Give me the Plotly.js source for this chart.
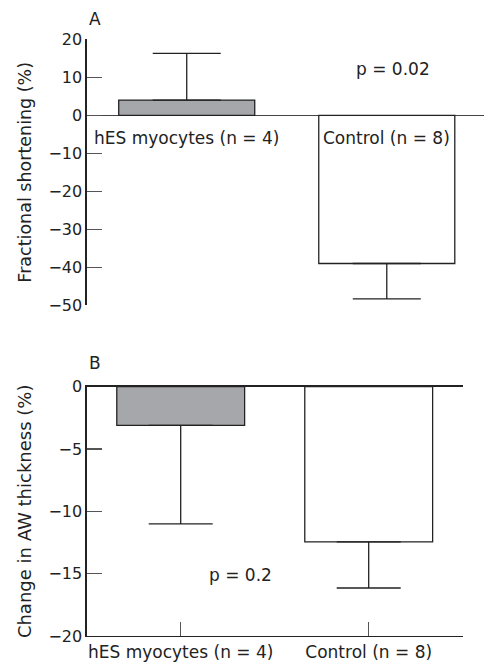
<!DOCTYPE html>
<html>
<head>
<meta charset="utf-8">
<script src="https://cdn.plot.ly/plotly-3.0.1.min.js"></script>
<style>html,body{margin:0;padding:0;background:#fff;}#chart{width:484px;height:667px;}</style>
</head>
<body>
<div id="chart"></div>
<script>
// Data
var categories = ['hES myocytes (n = 4)', 'Control (n = 8)'];
var fsMean = [4.0, -39.0];          // Panel A: fractional shortening (%)
var fsErrUp = [12.3, 0];
var fsErrDown = [0, 9.3];
var awMean = [-3.1, -12.45];        // Panel B: change in AW thickness (%)
var awErrUp = [0, 0];
var awErrDown = [7.9, 3.7];
var barColors = ['#a6a7ab', '#ffffff'];
var pA = 'p = 0.02';
var pB = 'p = 0.2';
var yTicksA = [20, 10, 0, -10, -20, -30, -40, -50];
var yTicksB = [0, -5, -10, -15, -20];

var FONT = '"DejaVu Sans", sans-serif';
var W = 484, H = 667;
function px(x){return x / W;}
function py(y){return 1 - y / H;}

var idx = categories.map(function(_, i){return i;});

var traceA = {
  type: 'bar', x: idx, y: fsMean, xaxis: 'x', yaxis: 'y', width: 0.68,
  marker: {color: barColors, line: {color: '#222', width: 1.3}},
  error_y: {type: 'data', symmetric: false, array: fsErrUp, arrayminus: fsErrDown,
            color: '#222', thickness: 1.3, width: 34},
  showlegend: false, hoverinfo: 'skip'
};
var traceB = {
  type: 'bar', x: idx, y: awMean, xaxis: 'x2', yaxis: 'y2', width: 0.68,
  marker: {color: barColors, line: {color: '#222', width: 1.3}},
  error_y: {type: 'data', symmetric: false, array: awErrUp, arrayminus: awErrDown,
            color: '#222', thickness: 1.3, width: 32},
  showlegend: false, hoverinfo: 'skip'
};

var annA = categories.map(function(c, i){
  return {xref: 'x', yref: 'y', x: i, y: -6, text: c, showarrow: false,
          xanchor: 'center', yanchor: 'middle', font: {family: FONT, size: 17, color: '#222'}};
});

var layout = {
  width: W, height: H,
  margin: {l: 0, r: 0, t: 0, b: 0},
  paper_bgcolor: '#fff', plot_bgcolor: 'rgba(0,0,0,0)',
  font: {family: FONT, size: 16, color: '#222'},
  xaxis: {
    domain: [px(86.7), 1], range: [-0.5, 1.486], anchor: 'y',
    showline: false, showticklabels: false, ticks: '', showgrid: false, zeroline: false, fixedrange: true
  },
  yaxis: {
    domain: [py(305.3), py(39.3)], range: [-50, 20], anchor: 'x',
    tickvals: yTicksA, ticks: 'inside', ticklen: 15, tickcolor: '#555', tickwidth: 1.2,
    showline: true, linecolor: '#222', linewidth: 1.3,
    showgrid: false, zeroline: true, zerolinecolor: '#444', zerolinewidth: 1.2,
    tickfont: {family: FONT, size: 16, color: '#222'},
    title: {text: 'Fractional shortening (%)', font: {family: FONT, size: 17.5, color: '#222'}, standoff: 12},
    fixedrange: true
  },
  xaxis2: {
    domain: [px(86.7), px(462.7)], range: [-0.5, 1.5], anchor: 'y2',
    tickvals: idx, ticktext: categories, ticks: 'inside', ticklen: 14, tickcolor: '#555', tickwidth: 1.2,
    showline: true, mirror: true, linecolor: '#222', linewidth: 1.3,
    showgrid: false, zeroline: false,
    tickfont: {family: FONT, size: 17, color: '#222'},
    fixedrange: true
  },
  yaxis2: {
    domain: [py(636), py(386.7)], range: [-20, 0], anchor: 'x2',
    tickvals: yTicksB, ticks: 'inside', ticklen: 15, tickcolor: '#555', tickwidth: 1.2,
    showline: true, linecolor: '#222', linewidth: 1.3,
    showgrid: false, zeroline: false,
    tickfont: {family: FONT, size: 16, color: '#222'},
    title: {text: 'Change in AW thickness (%)', font: {family: FONT, size: 18, color: '#222'}, standoff: 12},
    fixedrange: true
  },
  annotations: annA.concat([
    {xref: 'paper', yref: 'paper', x: px(87), y: py(19.3), text: 'A', showarrow: false,
     xanchor: 'left', yanchor: 'middle', font: {family: FONT, size: 17, color: '#222'}},
    {xref: 'paper', yref: 'paper', x: px(87), y: py(363.3), text: 'B', showarrow: false,
     xanchor: 'left', yanchor: 'middle', font: {family: FONT, size: 17, color: '#222'}},
    {xref: 'paper', yref: 'paper', x: px(393), y: py(69.3), text: pA, showarrow: false,
     xanchor: 'center', yanchor: 'middle', font: {family: FONT, size: 17, color: '#222'}},
    {xref: 'paper', yref: 'paper', x: px(240.3), y: py(575), text: pB, showarrow: false,
     xanchor: 'center', yanchor: 'middle', font: {family: FONT, size: 17, color: '#222'}}
  ])
};

Plotly.newPlot('chart', [traceA, traceB], layout, {staticPlot: true, displayModeBar: false});
</script>
</body>
</html>
